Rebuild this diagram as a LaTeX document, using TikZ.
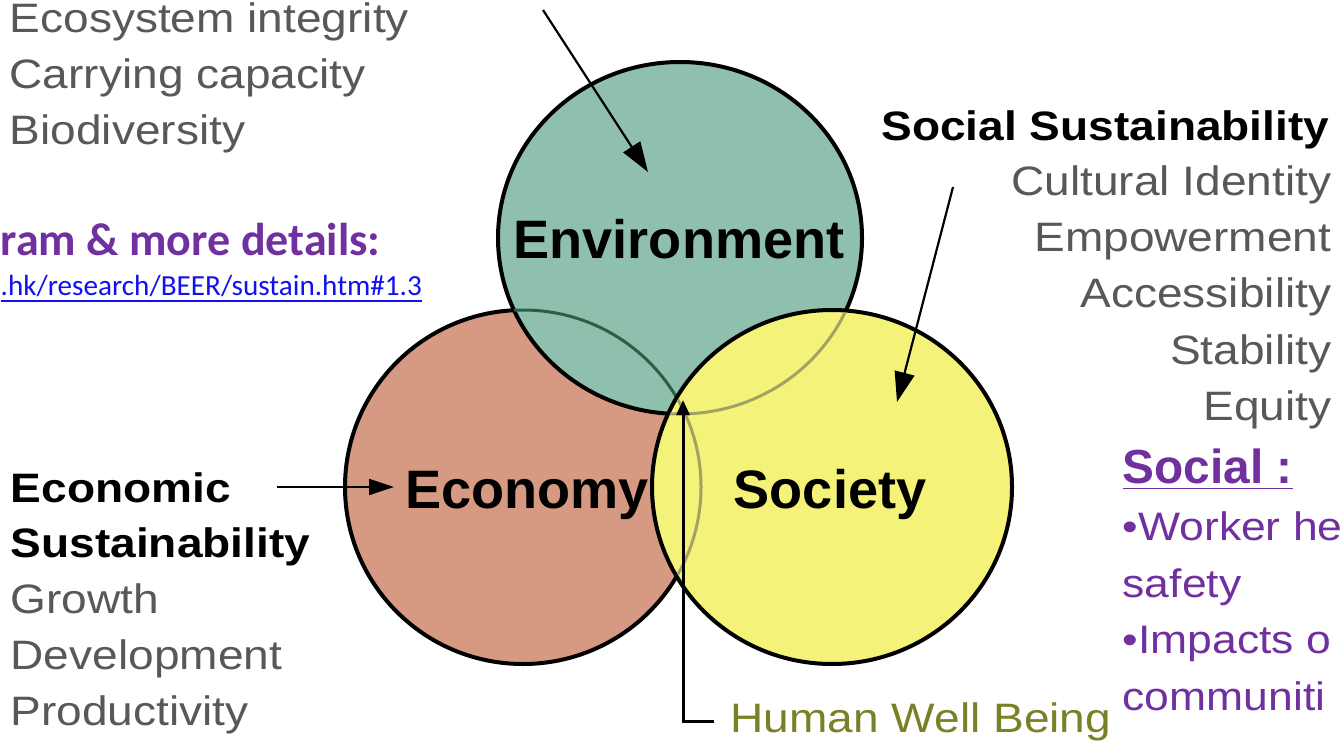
\documentclass[tikz,border=0pt]{standalone}
\usepackage{fontspec}
\setmainfont{Liberation Sans}
\newfontfamily\widefont{Liberation Sans}[FakeStretch=1.12]
\newfontfamily\califont{Carlito}
\usetikzlibrary{arrows.meta}

\definecolor{envfill}{HTML}{8FC0AE}
\definecolor{ecofill}{HTML}{D69A82}
\definecolor{socfill}{HTML}{F5F27A}
\definecolor{listgrey}{HTML}{585858}
\definecolor{hwbolive}{HTML}{7A8026}
\definecolor{slidepurple}{HTML}{7030A0}
\definecolor{linkblue}{HTML}{1010F0}
\definecolor{hiddengreen}{HTML}{2E5E45}
\definecolor{hiddenline}{HTML}{A3A265}

\begin{document}
\begin{tikzpicture}[
  ring/.style={draw=black,line width=0.04cm},
  hidden/.style={line width=0.03cm,draw=hiddenline},
  arr/.style={-{Triangle[length=0.3cm,width=0.2cm]},line width=0.022cm},
  listtext/.style={font=\widefont\fontsize{11.7}{14}\selectfont,text=listgrey,inner sep=0pt},
  headtext/.style={font=\widefont\bfseries\fontsize{11.7}{14}\selectfont,inner sep=0pt},
  circlabel/.style={font=\bfseries\fontsize{15.4}{18}\selectfont,inner sep=0pt,anchor=base},
  purpletext/.style={font=\widefont\fontsize{11.3}{14}\selectfont,text=slidepurple,
                     inner sep=0pt,anchor=base west},
]

\useasboundingbox (0,0) rectangle (13.43,7.44);
\clip (0,0) rectangle (13.43,7.44);

% Economy circle, with Environment drawn over it
\filldraw[ring,fill=ecofill] (5.23,2.57) ellipse [x radius=1.78,y radius=1.77];
\filldraw[ring,fill=envfill] (6.80,5.06) ellipse [x radius=1.82,y radius=1.76];
\begin{scope}
  \clip (6.80,5.06) ellipse [x radius=1.82,y radius=1.76];
  \draw[line width=0.03cm,draw=hiddengreen] (5.23,2.57) ellipse [x radius=1.78,y radius=1.77];
\end{scope}

% Society circle on top, hidden edges showing through
\filldraw[ring,fill=socfill] (8.32,2.57) ellipse [x radius=1.80,y radius=1.77];
\begin{scope}
  \clip (8.32,2.57) ellipse [x radius=1.78,y radius=1.75];
  \draw[hidden] (6.80,5.06) ellipse [x radius=1.82,y radius=1.76];
  \draw[hidden] (5.23,2.57) ellipse [x radius=1.78,y radius=1.77];
\end{scope}

% Circle labels
\node[circlabel] (envlabel) at (6.79,4.86) {Environment};
\node[circlabel] (ecolabel) at (5.27,2.36) {Economy};
\node[circlabel] (soclabel) at (8.30,2.36) {Society};

% Environmental list (top left)
\node[listtext,anchor=base west] (ecosys) at (0.09,7.12) {Ecosystem integrity};
\node[listtext,anchor=base west] (carry) at (0.09,6.55) {Carrying capacity};
\node[listtext,anchor=base west] (biodiv) at (0.09,5.99) {Biodiversity};

% Link to details
\node[font=\califont\bfseries\fontsize{13.1}{16}\selectfont,text=slidepurple,inner sep=0pt,
      anchor=base west] (details) at (0.0,4.89) {ram \& more details:};
\node[font=\califont\fontsize{8.3}{10}\selectfont,text=linkblue,inner sep=0pt,
      anchor=base west] (link) at (0.0,4.49) {\underline{.hk/research/BEER/sustain.htm\#1.3}};

% Social sustainability (right)
\node[headtext,anchor=base east] (socsus) at (13.30,6.04) {Social Sustainability};
\foreach \t [count=\i] in {Cultural Identity,Empowerment,Accessibility,Stability,Equity}
  \node[listtext,anchor=base east] (soc\i) at (13.32,6.05-0.5625*\i) {\t};

% Economic sustainability (bottom left)
\node[headtext,anchor=base west] (econ) at (0.10,2.42) {Economic};
\node[headtext,anchor=base west] (econsus) at (0.10,1.87) {Sustainability};
\foreach \t [count=\i] in {Growth,Development,Productivity}
  \node[listtext,anchor=base west] (eco\i) at (0.10,1.87-0.56*\i) {\t};

% Human well being
\node[listtext,text=hwbolive,anchor=base west] (hwb) at (7.30,0.12) {Human Well Being};

% Social notes (purple)
\node[font=\bfseries\fontsize{13.6}{16}\selectfont,text=slidepurple,inner sep=0pt,
      anchor=base west] (social) at (11.22,2.61) {\underline{Social :}};
\node[purpletext] (note1) at (11.22,2.04) {•Worker he};
\node[purpletext] (note2) at (11.22,1.47) {safety};
\node[purpletext] (note3) at (11.22,0.91) {•Impacts o};
\node[purpletext] (note4) at (11.22,0.34) {communiti};

% Arrows
\coordinate (envfrom) at (5.43,7.34);
\coordinate (envto) at (6.48,5.72);
\coordinate (socfrom) at (9.53,5.57);
\coordinate (socto) at (8.97,3.42);
\coordinate (ecofrom) at (2.77,2.57);
\coordinate (ecoto) at (3.94,2.57);
\coordinate (wellbeing) at (6.83,3.44);

\draw[arr] (envfrom) -- (envto);
\draw[arr] (socfrom) -- (socto);
\draw[arr,-{Triangle[length=0.25cm,width=0.16cm]}] (ecofrom) -- (ecoto);
\draw[line width=0.03cm,-{Triangle[length=0.15cm,width=0.13cm]}]
  ([xshift=-0.16cm]hwb.west) -| (wellbeing);

\end{tikzpicture}
\end{document}
